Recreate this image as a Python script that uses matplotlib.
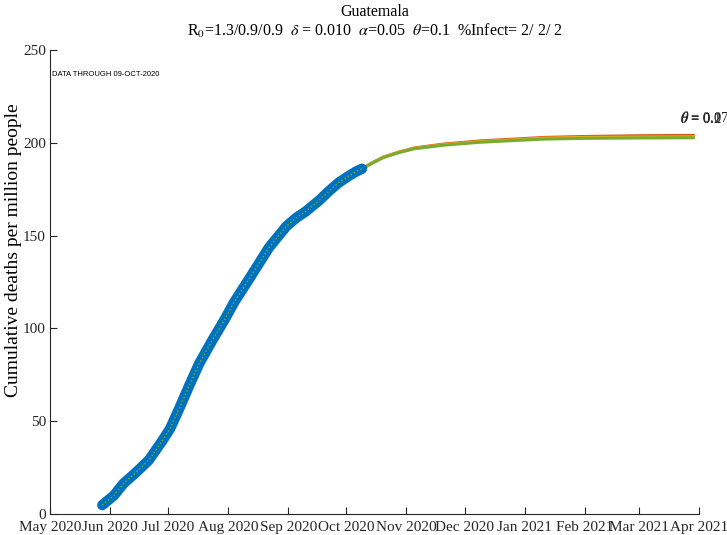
import matplotlib
matplotlib.use("Agg")
import matplotlib.pyplot as plt
import matplotlib.dates as mdates
import numpy as np

obs_dates = ["2020-05-28", "2020-06-03", "2020-06-08", "2020-06-14", "2020-06-21",
             "2020-06-28", "2020-07-02", "2020-07-07", "2020-07-12", "2020-07-17",
             "2020-07-24", "2020-07-30", "2020-08-04", "2020-08-12", "2020-08-22",
             "2020-08-31", "2020-09-05", "2020-09-10", "2020-09-17", "2020-09-22",
             "2020-09-27", "2020-10-02", "2020-10-06", "2020-10-09"]
obs_values = [4.8, 10, 16.5, 22, 29, 39.5, 46, 57.5, 69.5, 81, 94, 104.5, 114, 127,
              143.5, 155, 159.5, 163, 169, 174, 178.5, 182, 184.5, 186]

# model projections
proj_dates = ["2020-10-09", "2020-10-15", "2020-10-20", "2020-10-28", "2020-11-05",
              "2020-11-20", "2020-12-09", "2021-01-01", "2021-01-11", "2021-02-01",
              "2021-03-01", "2021-03-29"]
proj_theta_01 = [186, 189.6, 192.3, 195.0, 197.2, 199.3, 201.0, 202.3, 202.9, 203.4, 203.8, 204.0]
proj_theta_02 = [186, 189.5, 192.2, 194.9, 197.0, 199.0, 200.6, 201.9, 202.5, 202.9, 203.1, 203.2]
proj_theta_007 = [186, 189.4, 192.0, 194.7, 196.8, 198.7, 200.3, 201.5, 202.0, 202.4, 202.6, 202.7]
theta_labels = ["$\\theta$ = 0.1", "$\\theta$ = 0.2", "$\\theta$ = 0.07"]

month_ticks = ["2020-05-01", "2020-06-01", "2020-07-01", "2020-08-01", "2020-09-01",
               "2020-10-01", "2020-11-01", "2020-12-01", "2021-01-01", "2021-02-01",
               "2021-03-01", "2021-04-01"]

plt.rcParams["font.family"] = ["Liberation Serif", "DejaVu Serif"]
plt.rcParams["mathtext.fontset"] = "stix"

fig = plt.figure(figsize=(7.27, 5.35), dpi=100)
ax = fig.add_axes([50 / 727, 21 / 535, 649 / 727, 464 / 535])

od = np.array(obs_dates, dtype="datetime64[D]")
pd_ = np.array(proj_dates, dtype="datetime64[D]")

ax.plot(od, obs_values, color="#0072BD", lw=7.5, solid_capstyle="round",
        solid_joinstyle="round", zorder=3)
ax.plot(od, obs_values, color="#77AC30", lw=1, ls=":", zorder=4)

colors = ["#D95319", "#EDB120", "#77AC30"]
for vals, c in zip([proj_theta_01, proj_theta_02, proj_theta_007], colors):
    ax.plot(pd_, vals, color=c, lw=2.2, zorder=2)

lab_x = np.datetime64("2021-03-22")
for lab, dy in zip(theta_labels, [0.0, -0.4, 0.3]):
    ax.text(lab_x, 213.3 + dy, lab, fontsize=10.5, va="center", ha="left",
            color="#262626", clip_on=False)

ax.text(np.datetime64("2020-05-02"), 237, "DATA THROUGH 09-OCT-2020",
        fontsize=5.5, family="Liberation Sans", va="center")

ax.set_xlim(np.datetime64("2020-05-01"), np.datetime64("2021-04-01"))
ax.set_ylim(0, 250)
ax.set_xticks(np.array(month_ticks, dtype="datetime64[D]"))
ax.xaxis.set_major_formatter(mdates.DateFormatter("%b %Y"))
ax.set_yticks([0, 50, 100, 150, 200, 250])

for s in ["top", "right"]:
    ax.spines[s].set_visible(False)
for s in ["left", "bottom"]:
    ax.spines[s].set_color("#262626")
    ax.spines[s].set_linewidth(0.8)
ax.tick_params(direction="in", length=5, width=0.8, colors="#262626",
               labelsize=11)
ax.tick_params(axis="x", pad=5)
ax.tick_params(axis="y", pad=3)

ax.set_ylabel("Cumulative deaths per million people", fontsize=14)
ax.yaxis.set_label_coords(-0.043, 0.569)

fig.text(374.5 / 727, 1 - 12 / 535, "Guatemala", fontsize=11.5,
         ha="center", va="center")
fig.text(374.5 / 727, 1 - 31 / 535,
         "R$_0$=1.3/0.9/0.9  $\\delta$ = 0.010  $\\alpha$=0.05  "
         "$\\theta$=0.1  %Infect= 2/ 2/ 2", fontsize=11.5,
         ha="center", va="center")

fig.savefig("out.png", dpi=100)
